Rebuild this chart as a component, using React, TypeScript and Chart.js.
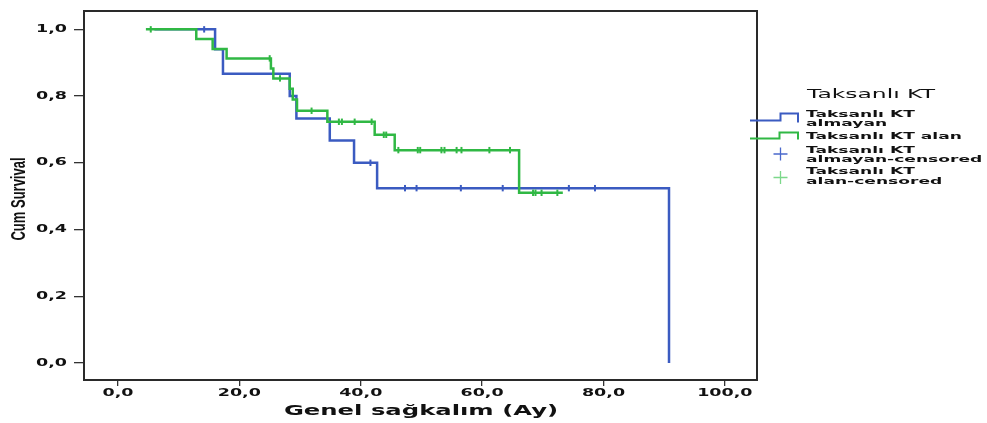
import React, { useEffect, useRef } from "react";
import { Chart, registerables } from "chart.js";

Chart.register(...registerables);

// ---- Data ----
const xTickValues = [0, 20, 40, 60, 80, 100];
const yTickValues = [0, 0.2, 0.4, 0.6, 0.8, 1.0];

// Taksanlı KT almayan (blue) – step points (time, survival after the step)
const blueTimes = [6, 16.0, 17.3, 28.3, 29.4, 34.9, 38.9, 42.7, 90.8];
const blueSurv = [1.0, 0.94, 0.867, 0.8, 0.733, 0.667, 0.6, 0.524, 0.0];
const blueCensorTimes = [14.2, 41.6, 47.3, 49.2, 56.5, 63.4, 74.3, 78.6];
const blueCensorSurv = [1.0, 0.6, 0.524, 0.524, 0.524, 0.524, 0.524, 0.524];

// Taksanlı KT alan (green)
const greenTimes = [4.6, 12.9, 15.6, 17.9, 25.2, 25.6, 28.3, 28.8, 29.5, 34.5, 42.3, 45.6, 66.1, 73.3];
const greenSurv = [1.0, 0.971, 0.941, 0.913, 0.883, 0.853, 0.822, 0.79, 0.756, 0.723, 0.684, 0.638, 0.51, 0.51];
const greenCensorTimes = [5.4, 25.0, 26.7, 31.9, 36.4, 36.9, 39.0, 41.8, 43.8, 44.2, 46.2, 49.4, 49.8, 53.3, 53.8, 55.8, 56.6, 61.2, 64.6, 68.4, 68.8, 69.8, 72.4];
const greenCensorSurv = [1.0, 0.913, 0.853, 0.756, 0.723, 0.723, 0.723, 0.723, 0.684, 0.684, 0.638, 0.638, 0.638, 0.638, 0.638, 0.638, 0.638, 0.638, 0.638, 0.51, 0.51, 0.51, 0.51];

const seriesNames = ["Taksanlı KT almayan", "Taksanlı KT alan", "Taksanlı KT almayan-censored", "Taksanlı KT alan-censored"];
const legendTitle = "Taksanlı KT";
const xTitle = "Genel sağkalım (Ay)";
const yTitle = "Cum Survival";

const BLUE = "#3B5BC1";
const GREEN = "#30B844";
const TEXT = "#111111";
const SX = 1.8; // horizontal stretch of the original export

const pts = (xs: number[], ys: number[]) => xs.map((x, i) => ({ x, y: ys[i] }));
const fmt = (v: number) => v.toFixed(1).replace(".", ",");

function drawText(
  ctx: CanvasRenderingContext2D,
  text: string,
  x: number,
  y: number,
  font: string,
  align: CanvasTextAlign,
  sx: number = SX
) {
  ctx.save();
  ctx.translate(x, y);
  ctx.scale(sx, 1);
  ctx.font = font;
  ctx.fillStyle = TEXT;
  ctx.textAlign = align;
  ctx.textBaseline = "middle";
  ctx.fillText(text, 0, 0);
  ctx.restore();
}

const decor = {
  id: "decor",
  afterDraw(chart: any) {
    const ctx: CanvasRenderingContext2D = chart.ctx;
    const { left, right, top, bottom } = chart.chartArea;
    // frame
    ctx.save();
    ctx.strokeStyle = "#2a2a2a";
    ctx.lineWidth = 2;
    ctx.strokeRect(left, top, right - left, bottom - top);
    ctx.restore();

    const tickFont = 'bold 10px "DejaVu Sans"';
    const ys = chart.scales.y;
    ys.ticks.forEach((t: any) => drawText(ctx, fmt(t.value), 67, ys.getPixelForValue(t.value), tickFont, "right", 1.75));
    const xs = chart.scales.x;
    xs.ticks.forEach((t: any) => drawText(ctx, fmt(t.value), xs.getPixelForValue(t.value), 393, tickFont, "center", 1.75));

    // axis titles
    drawText(ctx, xTitle, (left + right) / 2 + 0.5, 411, 'bold 13.5px "DejaVu Sans"', "center");
    ctx.save();
    ctx.translate(20, 199);
    ctx.scale(1.5, 1);
    ctx.rotate(-Math.PI / 2);
    ctx.font = 'bold 13px "Liberation Sans"';
    ctx.fillStyle = TEXT;
    ctx.textAlign = "center";
    ctx.textBaseline = "middle";
    ctx.fillText(yTitle, 0, 0);
    ctx.restore();

    // legend
    const lx = 806;
    drawText(ctx, legendTitle, lx + 1, 95, '13px "DejaVu Sans"', "left");
    const ef = 'bold 9.5px "DejaVu Sans"';
    drawText(ctx, "Taksanlı KT", lx, 114.5, ef, "left");
    drawText(ctx, "almayan", lx, 123.5, ef, "left");
    drawText(ctx, seriesNames[1], lx, 136.5, ef, "left");
    drawText(ctx, "Taksanlı KT", lx, 150.5, ef, "left");
    drawText(ctx, "almayan-censored", lx, 160, ef, "left");
    drawText(ctx, "Taksanlı KT", lx, 171.5, ef, "left");
    drawText(ctx, "alan-censored", lx, 181.5, ef, "left");

    const poly = (color: string, p: number[][]) => {
      ctx.save();
      ctx.strokeStyle = color;
      ctx.lineWidth = 2;
      ctx.beginPath();
      p.forEach(([x, y], i) => (i ? ctx.lineTo(x, y) : ctx.moveTo(x, y)));
      ctx.stroke();
      ctx.restore();
    };
    poly(BLUE, [[750, 120.5], [780.5, 120.5], [780.5, 113.5], [798, 113.5], [798, 122.5]]);
    poly(GREEN, [[750, 138.5], [779.5, 138.5], [779.5, 132.5], [798, 132.5], [798, 139.5]]);
    const plus = (color: string, cx: number, cy: number) => {
      ctx.save();
      ctx.strokeStyle = color;
      ctx.lineWidth = 1.3;
      ctx.beginPath();
      ctx.moveTo(cx - 7, cy);
      ctx.lineTo(cx + 7, cy);
      ctx.moveTo(cx, cy - 6.5);
      ctx.lineTo(cx, cy + 6.5);
      ctx.stroke();
      ctx.restore();
    };
    plus("#4A68CC", 780.5, 154);
    plus("#7CD88A", 780.5, 177.5);
  },
};

export default function App() {
  const ref = useRef<HTMLCanvasElement | null>(null);

  useEffect(() => {
    if (!ref.current) return;
    const chart = new Chart(ref.current, {
      type: "line",
      data: {
        datasets: [
          {
            label: seriesNames[2],
            data: pts(blueCensorTimes, blueCensorSurv),
            showLine: false,
            pointStyle: "line",
            rotation: 90,
            pointRadius: 3.2,
            pointBorderWidth: 2,
            borderColor: BLUE,
            backgroundColor: BLUE,
            order: 0,
          },
          {
            label: seriesNames[3],
            data: pts(greenCensorTimes, greenCensorSurv),
            showLine: false,
            pointStyle: "line",
            rotation: 90,
            pointRadius: 3.2,
            pointBorderWidth: 2,
            borderColor: GREEN,
            backgroundColor: GREEN,
            order: 0,
          },
          {
            label: seriesNames[1],
            data: pts(greenTimes, greenSurv),
            stepped: "before",
            borderColor: GREEN,
            borderWidth: 2.5,
            pointRadius: 0,
            fill: false,
            order: 1,
          },
          {
            label: seriesNames[0],
            data: pts(blueTimes, blueSurv),
            stepped: "before",
            borderColor: BLUE,
            borderWidth: 2.5,
            pointRadius: 0,
            fill: false,
            order: 2,
          },
        ],
      },
      options: {
        responsive: false,
        animation: false,
        events: [],
        layout: { padding: { left: 0, top: 11, right: 230, bottom: 0 } },
        plugins: { legend: { display: false }, tooltip: { enabled: false } },
        scales: {
          x: {
            type: "linear",
            min: -5.6,
            max: 105.3,
            afterBuildTicks: (s: any) => {
              s.ticks = xTickValues.map((v) => ({ value: v }));
            },
            afterFit: (s: any) => {
              s.height = 43;
            },
            ticks: { display: false },
            grid: { drawOnChartArea: false, drawTicks: true, tickLength: 6, color: "#333", lineWidth: 1.3 },
            border: { display: false },
          },
          y: {
            type: "linear",
            min: -0.051,
            max: 1.055,
            afterBuildTicks: (s: any) => {
              s.ticks = yTickValues.map((v) => ({ value: v }));
            },
            afterFit: (s: any) => {
              s.width = 84;
            },
            ticks: { display: false },
            grid: { drawOnChartArea: false, drawTicks: true, tickLength: 10, color: "#333", lineWidth: 1.3 },
            border: { display: false },
          },
        },
      },
      plugins: [decor],
    });
    return () => chart.destroy();
  }, []);

  return (
    <div style={{ position: "absolute", left: 0, top: 0, width: 987, height: 423, background: "#fff" }}>
      <canvas ref={ref} width={987} height={423} style={{ display: "block" }} />
    </div>
  );
}
